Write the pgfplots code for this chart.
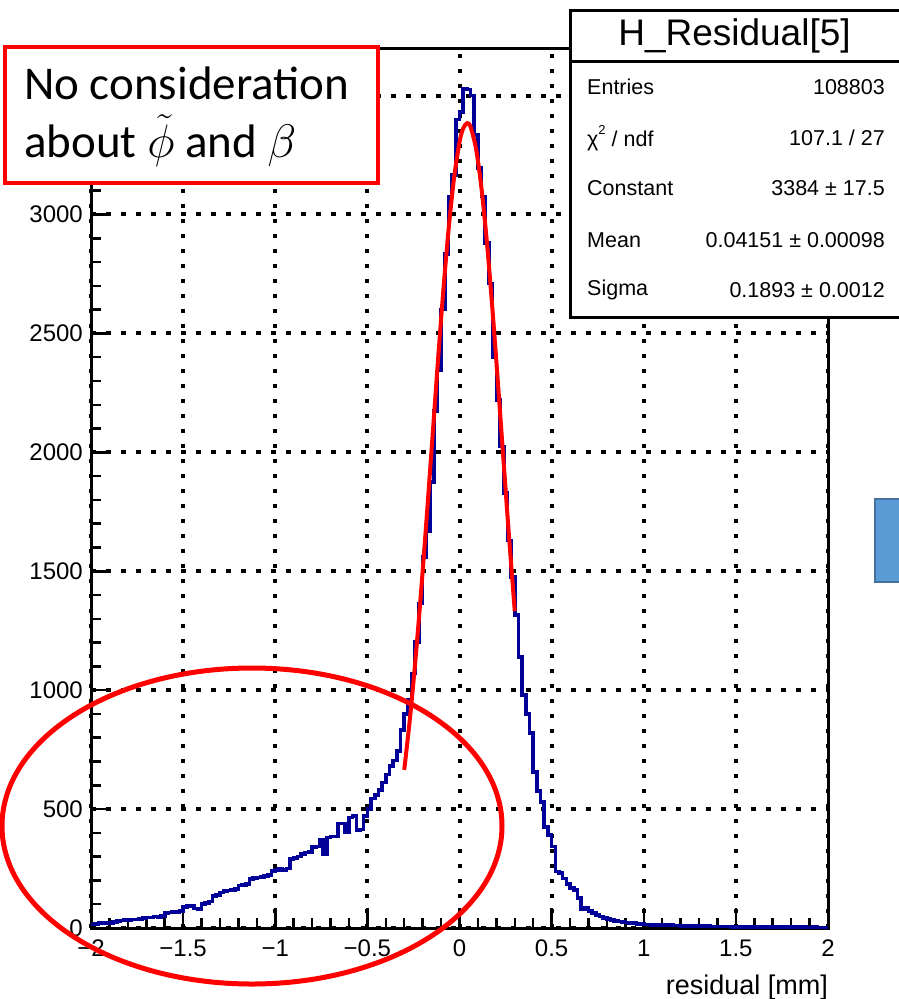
\RequirePackage{fix-cm}
\documentclass[border=0pt]{standalone}
\usepackage{pgfplots}
\pgfplotsset{compat=1.18}
\usepackage{fontspec}
\setmainfont{Liberation Sans}
\newfontfamily\calibri{Carlito}
\definecolor{histblue}{RGB}{0,0,153}
\definecolor{pptblue}{RGB}{91,155,213}
\definecolor{pptblueedge}{RGB}{65,113,156}
\begin{document}
\begin{tikzpicture}[x=1pt,y=1pt]
\path[use as bounding box] (0,0) rectangle (899,-999);
\begin{axis}[
  at={(91pt,-928pt)}, anchor=south west,
  width=737pt, height=880pt, scale only axis,
  xmin=-2, xmax=2, ymin=0, ymax=3700,
  xtick={-2,-1.5,-1,-0.5,0,0.5,1,1.5,2},
  xticklabels={−2,−1.5,−1,−0.5,0,0.5,1,1.5,2},
  ytick={0,500,1000,1500,2000,2500,3000,3500},
  yticklabels={0,500,1000,1500,2000,2500,3000,{}},
  minor x tick num=4, minor y tick num=4,
  tick align=inside, xtick pos=left, ytick pos=left,
  major tick length=20pt, minor tick length=10pt,
  tick style={black, line width=2.5pt},
  grid=major,
  major grid style={black, line width=4pt, dash pattern=on 4.5pt off 10.5pt},
  axis line style={line width=3pt},
  ticklabel style={font=\fontsize{24}{24}\selectfont},
  xticklabel style={anchor=north, inner sep=0pt, yshift=-12pt},
  yticklabel style={anchor=east, inner sep=0pt, xshift=-8pt},
]
\addplot[const plot mark left, color=histblue, line width=3.6pt] table {
x y
-2.00 15
-1.98 18
-1.96 22
-1.94 20
-1.92 24
-1.90 22
-1.88 25
-1.86 30
-1.84 32
-1.82 34
-1.80 33
-1.78 36
-1.76 35
-1.74 38
-1.72 42
-1.70 45
-1.68 44
-1.66 48
-1.64 46
-1.62 50
-1.60 62
-1.58 65
-1.56 70
-1.54 68
-1.52 72
-1.50 88
-1.48 92
-1.46 95
-1.44 82
-1.42 78
-1.40 100
-1.38 106
-1.36 112
-1.34 135
-1.32 140
-1.30 150
-1.28 155
-1.26 158
-1.24 160
-1.22 165
-1.20 178
-1.18 182
-1.16 185
-1.14 205
-1.12 210
-1.10 212
-1.08 215
-1.06 218
-1.04 222
-1.02 240
-1.00 245
-0.98 248
-0.96 244
-0.94 250
-0.92 290
-0.90 295
-0.88 300
-0.86 310
-0.84 318
-0.82 320
-0.80 340
-0.78 342
-0.76 370
-0.74 310
-0.72 380
-0.70 384
-0.68 384
-0.66 440
-0.64 440
-0.62 404
-0.60 465
-0.58 470
-0.56 412
-0.54 415
-0.52 470
-0.50 500
-0.48 545
-0.46 560
-0.44 580
-0.42 612
-0.40 645
-0.38 680
-0.36 705
-0.34 745
-0.32 832
-0.30 900
-0.28 960
-0.26 1070
-0.24 1203
-0.22 1364
-0.20 1560
-0.18 1670
-0.16 1875
-0.14 2175
-0.12 2345
-0.10 2600
-0.08 2835
-0.06 3075
-0.04 3165
-0.02 3400
0.00 3430
0.02 3530
0.04 3525
0.06 3500
0.08 3335
0.10 3195
0.12 3075
0.14 2880
0.16 2710
0.18 2400
0.20 2220
0.22 2025
0.24 1830
0.26 1630
0.28 1475
0.30 1315
0.32 1140
0.34 980
0.36 900
0.38 820
0.40 655
0.42 575
0.44 530
0.46 425
0.48 390
0.50 342
0.52 237
0.54 232
0.56 209
0.58 185
0.60 167
0.62 160
0.64 125
0.66 78
0.68 84
0.70 72
0.72 64
0.74 55
0.76 48
0.78 42
0.80 38
0.82 33
0.84 30
0.86 27
0.88 25
0.90 23
0.92 21
0.94 20
0.96 18
0.98 16
1.00 15
1.02 14
1.04 13
1.06 14
1.08 12
1.10 12
1.12 11
1.14 12
1.16 10
1.18 10
1.20 9
1.22 10
1.24 9
1.26 8
1.28 9
1.30 8
1.32 7
1.34 8
1.36 7
1.38 7
1.40 6
1.42 7
1.44 6
1.46 6
1.48 5
1.50 6
1.52 5
1.54 5
1.56 4
1.58 5
1.60 4
1.62 4
1.64 5
1.66 3
1.68 4
1.70 4
1.72 3
1.74 3
1.76 4
1.78 3
1.80 3
1.82 2
1.84 3
1.86 3
1.88 2
1.90 2
1.92 3
1.94 2
1.96 2
1.98 2
2.00 2
};
\addplot[smooth, color=red, line width=4pt] coordinates {
(-0.30,665) (-0.27,874) (-0.24,1120) (-0.21,1400) (-0.18,1707)
(-0.15,2028) (-0.12,2352) (-0.09,2659) (-0.06,2931) (-0.03,3151)
(0.00,3304) (0.02,3362) (0.0415,3384) (0.06,3368) (0.09,3275)
(0.12,3105) (0.15,2872) (0.18,2589) (0.21,2277) (0.24,1953)
(0.27,1633) (0.30,1332)
};
\end{axis}
% x-axis title
\node[anchor=base east, inner sep=0pt, font=\fontsize{27}{27}\selectfont] at (828,-994) {residual [mm]};
% red ellipse annotation
\draw[red, line width=5pt] (252,-826) ellipse [x radius=250, y radius=158];
% red text box
\draw[red, line width=4pt, fill=white] (5,-47) rectangle (378,-183);
\node[anchor=north west, inner sep=0pt, align=left, font=\calibri\fontsize{47}{58}\selectfont] at (24,-67) {No consideration\\about $\tilde{\phi}$ and $\beta$};
% stats box
\draw[black, line width=3pt, fill=white] (570,-10) rectangle (905,-317);
\draw[black, line width=3pt] (570,-61) -- (905,-61);
\node[inner sep=0pt, font=\fontsize{37}{37}\selectfont] at (734.5,-36) {H\_Residual[5]};
\begin{scope}[every node/.style={inner sep=0pt, font=\fontsize{21.5}{21.5}\selectfont}]
\node[anchor=west] at (587,-87) {Entries};
\node[anchor=east] at (885,-87) {108803};
\node[anchor=west] at (587,-138) {χ\raisebox{0.55em}{\fontsize{13}{13}\selectfont 2} / ndf};
\node[anchor=east] at (885,-138) {107.1 / 27};
\node[anchor=west] at (587,-188) {Constant};
\node[anchor=east] at (885,-188) {3384 ± 17.5};
\node[anchor=west] at (587,-240) {Mean};
\node[anchor=east] at (885,-240) {0.04151 ± 0.00098};
\node[anchor=west] at (587,-290) {Sigma};
\node[anchor=east] at (885,-290) {0.1893 ± 0.0012};
\end{scope}
% partial blue shape at the right edge
\draw[pptblueedge, line width=1.5pt, fill=pptblue] (875,-499) rectangle (910,-582);
\end{tikzpicture}
\end{document}
